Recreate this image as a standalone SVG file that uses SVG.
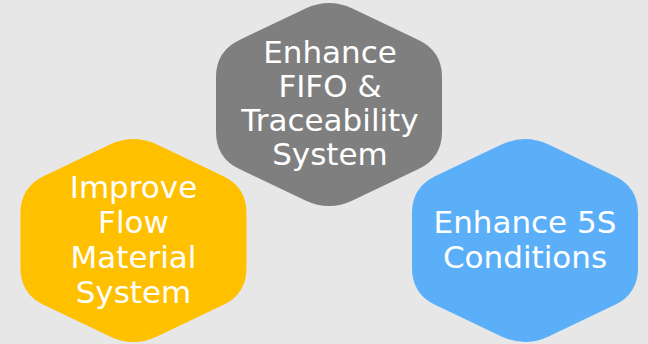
<svg xmlns="http://www.w3.org/2000/svg" width="648" height="344" viewBox="0 0 648 344">
  <style>
    .hex { stroke: none; }
    .lbl { font-family: "DejaVu Sans", "Liberation Sans", sans-serif; font-size: 31px; fill: #ffffff; text-anchor: middle; }
  </style>
  <defs>
    <path id="hexShape" d="M 23.5,-95.9 L 89.5,-64.6 Q 113,-53.5 113,-27.5 L 113,27.5 Q 113,53.5 89.5,64.6 L 23.5,95.9 Q 0,107 -23.5,95.9 L -89.5,64.6 Q -113,53.5 -113,27.5 L -113,-27.5 Q -113,-53.5 -89.5,-64.6 L -23.5,-95.9 Q 0,-107 23.5,-95.9 Z"/>
  </defs>
  <rect x="0" y="0" width="648" height="344" fill="#e7e7e7"/>
  <g id="connectors"></g>
  <g id="node-fifo">
    <use href="#hexShape" class="hex" transform="translate(329,104.5)" fill="#7f7f7f"/>
    <text class="lbl" x="330" y="62.5">Enhance</text>
    <text class="lbl" x="330" y="96.5">FIFO &amp;</text>
    <text class="lbl" x="330" y="130.5">Traceability</text>
    <text class="lbl" x="330" y="164.5">System</text>
  </g>
  <g id="node-flow">
    <use href="#hexShape" class="hex" transform="translate(133.5,240.5)" fill="#ffc000"/>
    <text class="lbl" x="133.5" y="198">Improve</text>
    <text class="lbl" x="133.5" y="233">Flow</text>
    <text class="lbl" x="133.5" y="268">Material</text>
    <text class="lbl" x="133.5" y="303">System</text>
  </g>
  <g id="node-5s">
    <use href="#hexShape" class="hex" transform="translate(525,240.5)" fill="#5aaff8"/>
    <text class="lbl" x="525" y="233">Enhance 5S</text>
    <text class="lbl" x="525" y="268">Conditions</text>
  </g>
</svg>
